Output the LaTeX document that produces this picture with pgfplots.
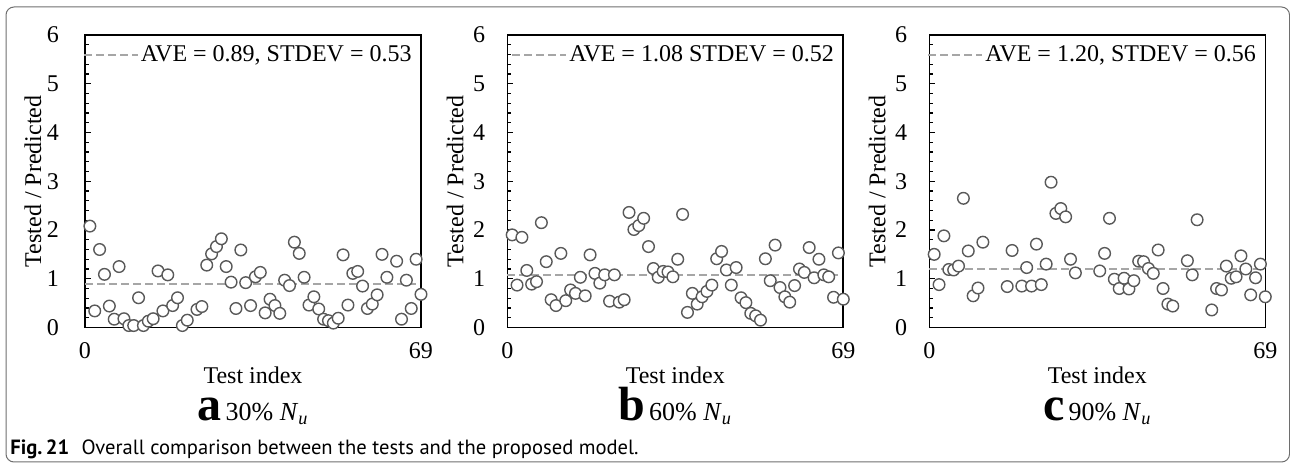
\documentclass[border=0pt]{standalone}
\usepackage{fontspec}
\setmainfont{Liberation Serif}
\newfontfamily\capfont{PT Sans}
\usepackage{pgfplots}
\usepackage{pgfplotstable}
\pgfplotsset{compat=1.18}

\definecolor{markgray}{HTML}{595959}
\definecolor{avegray}{HTML}{A6A6A6}
\definecolor{framegray}{HTML}{6E6E6E}

% Tested / Predicted ratios, one table per axial load level
\pgfplotstableread{
idx ratio
1 2.08
2 0.34
3 1.60
4 1.09
5 0.44
6 0.17
7 1.25
8 0.18
9 0.04
10 0.04
11 0.61
12 0.04
13 0.13
14 0.18
15 1.16
16 0.34
17 1.08
18 0.45
19 0.61
20 0.04
21 0.15
23 0.37
24 0.43
25 1.28
26 1.51
27 1.66
28 1.82
29 1.25
30 0.93
31 0.39
32 1.59
33 0.92
34 0.45
35 1.04
36 1.13
37 0.30
38 0.58
39 0.45
40 0.29
41 0.97
42 0.86
43 1.75
44 1.52
45 1.03
46 0.46
47 0.63
48 0.38
49 0.17
50 0.14
51 0.09
52 0.19
53 1.49
54 0.46
55 1.11
56 1.15
57 0.85
58 0.39
59 0.48
60 0.67
61 1.50
62 1.03
64 1.36
65 0.17
66 0.97
67 0.39
68 1.40
69 0.68
}\dataA

\pgfplotstableread{
idx ratio
1 1.90
2 0.87
3 1.85
4 1.17
5 0.89
6 0.94
7 2.15
8 1.35
9 0.57
10 0.45
11 1.52
12 0.55
13 0.77
14 0.70
15 1.03
16 0.65
17 1.49
18 1.11
19 0.91
20 1.08
21 0.54
22 1.08
23 0.52
24 0.57
25 2.36
26 2.01
27 2.09
28 2.24
29 1.66
30 1.21
31 1.03
32 1.15
33 1.14
34 1.04
35 1.40
36 2.32
37 0.31
38 0.70
39 0.48
40 0.63
41 0.74
42 0.87
43 1.41
44 1.56
45 1.18
46 0.87
47 1.23
48 0.61
49 0.51
50 0.29
51 0.24
52 0.15
53 1.41
54 0.96
55 1.69
56 0.82
57 0.63
58 0.52
59 0.86
60 1.20
61 1.13
62 1.64
63 1.02
64 1.40
65 1.08
66 1.04
67 0.62
68 1.53
69 0.58
}\dataB

\pgfplotstableread{
idx ratio
1 1.50
2 0.88
3 1.88
4 1.19
5 1.18
6 1.26
7 2.65
8 1.57
9 0.65
10 0.81
11 1.75
16 0.84
17 1.58
19 0.85
20 1.23
21 0.85
22 1.71
23 0.88
24 1.30
25 2.98
26 2.34
27 2.44
28 2.27
29 1.40
30 1.12
35 1.16
36 1.52
37 2.24
38 0.99
39 0.80
40 1.01
41 0.79
42 0.96
43 1.36
44 1.35
45 1.21
46 1.11
47 1.59
48 0.80
49 0.48
50 0.44
53 1.37
54 1.08
55 2.21
58 0.36
59 0.80
60 0.77
61 1.26
62 1.01
63 1.04
64 1.47
65 1.20
66 0.67
67 1.02
68 1.30
69 0.63
}\dataC

\newcommand\twelve{\fontsize{12}{14}\selectfont}

\pgfplotsset{
  ratioaxis/.style={
    scale only axis,
    width=168pt, height=146.25pt,
    anchor=south west,
    xmin=0, xmax=69, ymin=0, ymax=6,
    axis line style={line width=0.8pt},
    xtick={0,69}, xticklabels={0,69},
    major x tick style={draw=none},
    xticklabel style={yshift=-4pt},
    ytick={0,1,...,6}, minor y tick num=4,
    ytick pos=left, tick align=inside,
    major tick length=3pt, minor tick length=2pt,
    every tick/.style={black, line width=0.6pt},
    /pgf/number format/assume math mode=true,
    tick label style={font=\twelve},
    xlabel={Test index},
    every axis x label/.style={at={(axis description cs:0.5,-0.164)}, anchor=center,
      inner sep=0pt, font=\twelve},
    ylabel={Tested / Predicted},
    every axis y label/.style={at={(axis description cs:-0.155,0.5)}, rotate=90, anchor=center, font=\twelve},
    legend style={at={(rel axis cs:1,1)}, anchor=north east, xshift=-3.5pt, yshift=-4pt,
      draw=none, fill=none, inner sep=0pt,
      font=\twelve,
      nodes={inner sep=1pt},
      /tikz/every even column/.append style={column sep=0pt}},
    legend image code/.code={\draw[##1] (0pt,0pt) -- (27pt,0pt);},
    clip=false,
  },
  ratiomarks/.style={only marks, mark=*, mark size=2.9pt,
    mark options={draw=markgray, fill=white, line width=0.7pt}},
  aveline/.style={avegray, line width=0.8pt, dash pattern=on 4pt off 2pt},
}

% panel letter and load level below each axis
\newcommand\panelcap[2]{%
  \node[anchor=base, inner sep=0pt] at (axis description cs:0.5,-0.318)
    {{\fontsize{24}{24}\selectfont\bfseries #1}\hspace{2pt}\fontsize{13}{15}\selectfont #2\% \textit{N}\textsubscript{\textit{u}}};}

\begin{document}
\begin{tikzpicture}
\useasboundingbox (0pt,0pt) rectangle (645pt,232.5pt);
\draw[framegray, line width=0.5pt, rounded corners=4pt] (3pt,1.5pt) rectangle (644.75pt,229pt);

% (a) 30% Nu
\begin{axis}[ratioaxis, at={(42.5pt,68.75pt)}, yticklabel style={xshift=-9.5pt}]
  \addplot[ratiomarks, forget plot] table[x=idx, y=ratio] {\dataA};
  \addplot[aveline] coordinates {(0,0.89) (68,0.89)};
  \addlegendentry{AVE = 0.89, STDEV = 0.53}
  \panelcap{a}{30}
\end{axis}

% (b) 60% Nu
\begin{axis}[ratioaxis, at={(253.65pt,68.75pt)}, yticklabel style={xshift=-7.5pt}]
  \addplot[ratiomarks, forget plot] table[x=idx, y=ratio] {\dataB};
  \addplot[aveline] coordinates {(0,1.08) (68,1.08)};
  \addlegendentry{AVE = 1.08 STDEV = 0.52}
  \panelcap{b}{60}
\end{axis}

% (c) 90% Nu
\begin{axis}[ratioaxis, at={(464.65pt,68.75pt)}, yticklabel style={xshift=-7.5pt}]
  \addplot[ratiomarks, forget plot] table[x=idx, y=ratio] {\dataC};
  \addplot[aveline] coordinates {(0,1.20) (68,1.20)};
  \addlegendentry{AVE = 1.20, STDEV = 0.56}
  \panelcap{c}{90}
\end{axis}

\node[anchor=base west, inner sep=0pt] at (5pt,5pt)
  {\capfont\fontsize{10.3}{12}\selectfont\textbf{Fig.\,21}\hspace{0.6em}Overall comparison between the tests and the proposed model.};
\end{tikzpicture}
\end{document}
